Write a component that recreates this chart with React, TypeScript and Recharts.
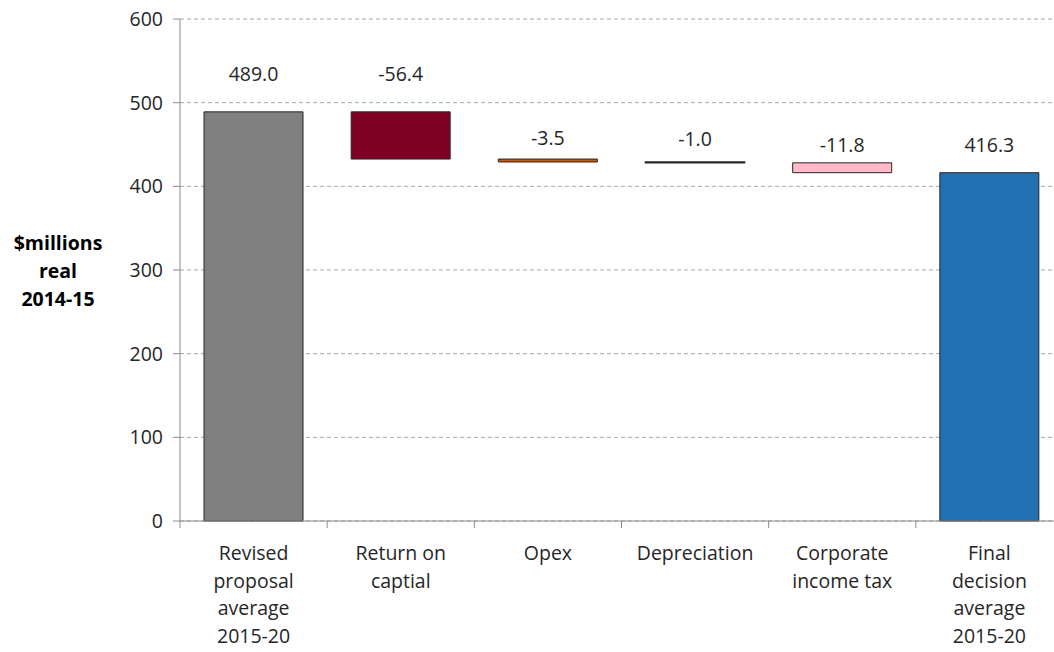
import React from 'react';
import { BarChart, Bar, XAxis, YAxis, CartesianGrid, Cell, LabelList } from 'recharts';

const categories = [
  'Revised\nproposal\naverage\n2015-20',
  'Return on\ncaptial',
  'Opex',
  'Depreciation',
  'Corporate\nincome tax',
  'Final\ndecision\naverage\n2015-20',
];
// signed amounts; first and last are totals
const amounts = [489.0, -56.4, -3.5, -1.0, -11.8, 416.3];
const isTotal = [true, false, false, false, false, true];
const yTicks = [0, 100, 200, 300, 400, 500, 600];

const fills = ['#808080', '#7f0025', '#c55a11', '#000000', '#ffb9c8', '#2270b4'];
// how far above the bar top each value label sits (px)
const labelLift = [36, 36, 19, 21, 16, 26];

const FONT = '"Open Sans", sans-serif';
const FS = 19.5;
const BAND = 883 / 6;

let running = 0;
const data = categories.map((name, i) => {
  const amt = amounts[i];
  if (isTotal[i]) {
    running = amt;
    return { name, base: 0, value: amt, label: amt.toFixed(1) };
  }
  const top = running;
  running = running + amt;
  return { name, base: running, value: top - running, label: amt.toFixed(1) };
});

const XTick = (props: any) => {
  const { x, y, payload, index } = props;
  const lines = String(payload.value).split('\n');
  return (
    <g>
      <line x1={x - BAND / 2} x2={x - BAND / 2} y1={y} y2={y + 7} stroke="#8c8c8c" />
      {index === categories.length - 1 && (
        <line x1={x + BAND / 2} x2={x + BAND / 2} y1={y} y2={y + 7} stroke="#8c8c8c" />
      )}
      <text x={x} y={y + 39} textAnchor="middle" fontFamily={FONT} fontSize={FS} fill="#262626">
        {lines.map((l, i) => (
          <tspan key={i} x={x} dy={i === 0 ? 0 : 27.7}>{l}</tspan>
        ))}
      </text>
    </g>
  );
};

const ValueLabel = (props: any) => {
  const { x, y, width, index } = props;
  return (
    <text x={x + width / 2} y={y - labelLift[index]} textAnchor="middle" dominantBaseline="middle"
      fontFamily={FONT} fontSize={FS} fill="#262626">
      {data[index].label}
    </text>
  );
};

export default function App() {
  return (
    <div style={{ position: 'relative', width: 1070, height: 652 }}>
      <style>{`body{margin:0;overflow:hidden;background:#fff}`}</style>
      <BarChart width={1070} height={652} data={data} barSize={99}
        margin={{ top: 19, right: 7, bottom: 0, left: 0 }}>
        <CartesianGrid vertical={false} stroke="#a6a6a6" strokeDasharray="4 3" />
        <XAxis dataKey="name" height={131} interval={0} tickSize={0} tickMargin={0}
          axisLine={{ stroke: '#8c8c8c' }} tickLine={false} tick={<XTick />} />
        <YAxis domain={[0, 600]} ticks={yTicks} width={180} tickSize={7} tickMargin={10}
          axisLine={{ stroke: '#8c8c8c' }} tickLine={{ stroke: '#8c8c8c' }}
          tick={{ fontFamily: FONT, fontSize: FS, fill: '#262626' }} />
        <Bar dataKey="base" stackId="w" fill="transparent" isAnimationActive={false} />
        <Bar dataKey="value" stackId="w" stroke="#262626" strokeWidth={1} isAnimationActive={false}>
          {data.map((d, i) => (
            <Cell key={i} fill={fills[i]} strokeWidth={i === 3 ? 1.6 : 1} />
          ))}
          <LabelList dataKey="label" content={<ValueLabel />} />
        </Bar>
      </BarChart>
      <div style={{ position: 'absolute', left: 0, width: 116, top: 229, textAlign: 'center',
        fontFamily: FONT, fontWeight: 700, fontSize: FS, lineHeight: '28px', color: '#000' }}>
        $millions<br />real<br />2014-15
      </div>
    </div>
  );
}
